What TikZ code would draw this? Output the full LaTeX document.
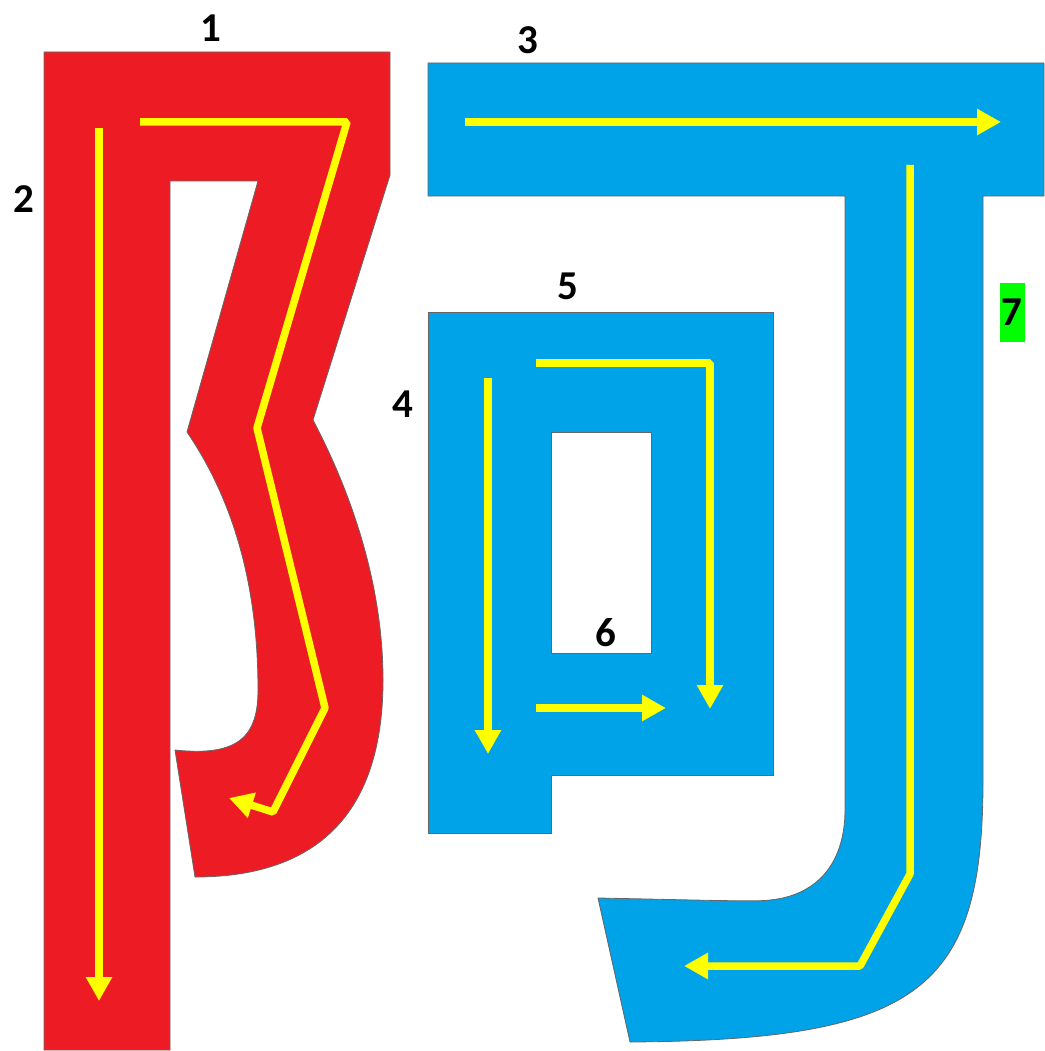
\documentclass[tikz,border=0pt]{standalone}
\usepackage{fontspec}
\setmainfont{Carlito}
\usetikzlibrary{arrows.meta}
\definecolor{strokered}{HTML}{ED1C24}
\definecolor{strokeblue}{HTML}{00A2E8}
\definecolor{pathyellow}{HTML}{FFFF00}
\definecolor{tagreen}{HTML}{00FF00}
\tikzset{
  redpart/.style={fill=strokered, draw=black!60, line width=0.8pt},
  bluepart/.style={fill=strokeblue, draw=black!60, line width=0.8pt},
  orderarrow/.style={draw=pathyellow, line width=7.5pt, line join=bevel,
    -{Triangle[length=24pt,width=25pt]}},
  numlabel/.style={font=\fontsize{41}{41}\selectfont\bfseries, inner sep=0pt}
}
\begin{document}
\begin{tikzpicture}[x=1pt,y=-1pt]
\useasboundingbox (0,0) rectangle (1044,1051);
% red component (strokes 1,2)
\path[redpart] (44,52) -- (390,52) -- (390,175) -- (313,420)
  .. controls (355,500) and (383,590) .. (383,680)
  .. controls (383,830) and (300,877) .. (195,877)
  -- (175,750)
  .. controls (240,757) and (258,735) .. (258,690)
  .. controls (258,600) and (240,510) .. (187,432)
  -- (258,181) -- (170,181) -- (170,1050) -- (44,1050) -- cycle;
% blue J (strokes 3,7)
\path[bluepart] (428,63) -- (1044,63) -- (1044,196) -- (983,196) -- (983,780)
  .. controls (983,990) and (920,1040) .. (630,1042)
  -- (598,898)
  .. controls (700,900) and (760,902) .. (770,900)
  .. controls (820,895) and (845,860) .. (845,810)
  -- (845,196) -- (428,196) -- cycle;
% blue box (strokes 4,5,6)
\path[bluepart, even odd rule] (428,312) -- (773,312) -- (773,775) -- (551,775)
  -- (551,833) -- (428,833) -- cycle (551,432) rectangle (651,653);
% order arrows
\coordinate (a1s) at (140,122); \coordinate (a1b) at (347,122);
\coordinate (a1c) at (257,428); \coordinate (a1d) at (325,708);
\coordinate (a1e) at (273,812); \coordinate (a1t) at (229,798);
\draw[orderarrow] (a1s) -- (a1b) -- (a1c) -- (a1d) -- (a1e) -- (a1t);
\coordinate (a2s) at (99,128); \coordinate (a2t) at (99,1001);
\draw[orderarrow] (a2s) -- (a2t);
\coordinate (a3s) at (465,122); \coordinate (a3t) at (1001,122);
\draw[orderarrow] (a3s) -- (a3t);
\coordinate (a4s) at (488,378); \coordinate (a4t) at (488,754);
\draw[orderarrow] (a4s) -- (a4t);
\coordinate (a5s) at (536,363); \coordinate (a5b) at (710,363); \coordinate (a5t) at (710,709);
\draw[orderarrow] (a5s) -- (a5b) -- (a5t);
\coordinate (a6s) at (536,708); \coordinate (a6t) at (666,708);
\draw[orderarrow] (a6s) -- (a6t);
\coordinate (a7s) at (910,165); \coordinate (a7b) at (910,874);
\coordinate (a7c) at (860,966); \coordinate (a7t) at (684,966);
\draw[orderarrow] (a7s) -- (a7b) -- (a7c) -- (a7t);
% labels
\node[numlabel] (n1) at (211,28) {1};
\node[numlabel] (n2) at (24,199) {2};
\node[numlabel] (n3) at (528,40) {3};
\node[numlabel] (n4) at (403,404) {4};
\node[numlabel] (n5) at (568,286) {5};
\node[numlabel] (n6) at (606,633) {6};
\node[numlabel, fill=tagreen, minimum width=25pt, minimum height=59pt] (n7) at (1012,312) {7};
\end{tikzpicture}
\end{document}
